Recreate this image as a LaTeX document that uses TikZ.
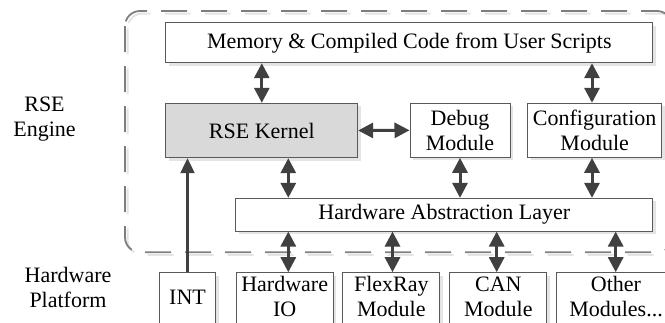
\documentclass[tikz,border=0pt]{standalone}
\usepackage{fontspec}
\setmainfont{Liberation Serif}
\usetikzlibrary{arrows.meta,shadows}
\definecolor{boxline}{HTML}{595959}
\definecolor{arrowc}{HTML}{404040}
\definecolor{kfill}{HTML}{D9D9D9}
\definecolor{shadowc}{HTML}{E4E4E4}
\definecolor{dashc}{HTML}{7F7F7F}
\begin{document}
\begin{tikzpicture}[x=1pt,y=-1pt,
  every node/.style={font=\fontsize{22}{25}\selectfont},
  blk/.style={draw=boxline, line width=1pt, fill=white, inner sep=0pt, align=center,
    drop shadow={shadow xshift=3pt, shadow yshift=-3pt, fill=shadowc, opacity=1}},
  lbl/.style={align=center, inner sep=0pt},
  dbl/.style={{Triangle[length=15pt,width=15pt]}-{Triangle[length=15pt,width=15pt]}, line width=3pt, draw=arrowc},
  sgl/.style={-{Triangle[length=15pt,width=14pt]}, line width=2.2pt, draw=arrowc}]
\useasboundingbox (0,0) rectangle (665,322);
\clip (0,0) rectangle (665,322);
% dashed engine frame
\draw[shadowc, line width=2pt, dash pattern=on 26pt off 14pt, rounded corners=15pt] (127.5,13.5) rectangle (675,254.8);
\draw[dashc, line width=1.8pt, dash pattern=on 26pt off 14pt, rounded corners=15pt] (125,11) rectangle (672,252.3);
% side labels
\node[lbl] (eng) at (44.5,119) {RSE\\Engine};
\node[lbl] (plat) at (68,287) {Hardware\\Platform};
% engine boxes
\node[blk, minimum width=486.7pt, minimum height=40pt] (mem) at (409.3,42.7) {Memory \& Compiled Code from User Scripts};
\node[blk, fill=kfill, minimum width=191.7pt, minimum height=54.4pt] (kernel) at (261.8,130.5) {RSE Kernel};
\node[blk, minimum width=100pt, minimum height=54pt] (debug) at (460,130.3) {Debug\\Module};
\node[blk, minimum width=134pt, minimum height=54pt] (config) at (594.7,130.3) {Configuration\\Module};
\node[blk, minimum width=416.7pt, minimum height=32.7pt] (hal) at (444.3,214.7) {Hardware Abstraction Layer};
% hardware boxes (cut by the lower edge)
\node[blk, minimum width=56.4pt, minimum height=62pt] (int) at (187.5,303.7) {};
\node[blk, minimum width=97.3pt, minimum height=62pt] (hwio) at (284.7,303.7) {};
\node[blk, minimum width=97.3pt, minimum height=62pt] (flex) at (391.3,303.7) {};
\node[blk, minimum width=96.7pt, minimum height=62pt] (can) at (498.3,303.7) {};
\node[blk, minimum width=120pt, minimum height=62pt] (other) at (616,303.7) {};
\node[lbl] (intt) at (int.center |- 0,297.5) {INT};
\node[lbl] (hwiot) at (hwio.center |- 0,296.5) {Hardware\\IO};
\node[lbl] (flext) at (flex.center |- 0,296.5) {FlexRay\\Module};
\node[lbl] (cant) at (can.center |- 0,296.5) {CAN\\Module};
\node[lbl] (othert) at (other.center |- 0,296.5) {Other\\Modules...};
% arrow columns
\coordinate (ck) at (288.3,0);
\coordinate (cc) at (592,0);
\coordinate (cf) at (392.5,0);
\coordinate (cn) at (496.7,0);
\coordinate (co) at (615.7,0);
% connectors
\draw[dbl] (mem.south -| kernel) -- (kernel.north);
\draw[dbl] (mem.south -| cc) -- (config.north -| cc);
\draw[dbl] (kernel.east) -- (debug.west);
\draw[dbl] (kernel.south -| ck) -- (hal.north -| ck);
\draw[dbl] (debug.south) -- (hal.north -| debug);
\draw[dbl] (config.south -| cc) -- (hal.north -| cc);
\draw[dbl] (hal.south -| ck) -- (hwio.north -| ck);
\draw[dbl] (hal.south -| cf) -- (flex.north -| cf);
\draw[dbl] (hal.south -| cn) -- (can.north -| cn);
\draw[dbl] (hal.south -| co) -- (other.north -| co);
\draw[sgl] (int.north) -- (kernel.south -| int.north);
\end{tikzpicture}
\end{document}
